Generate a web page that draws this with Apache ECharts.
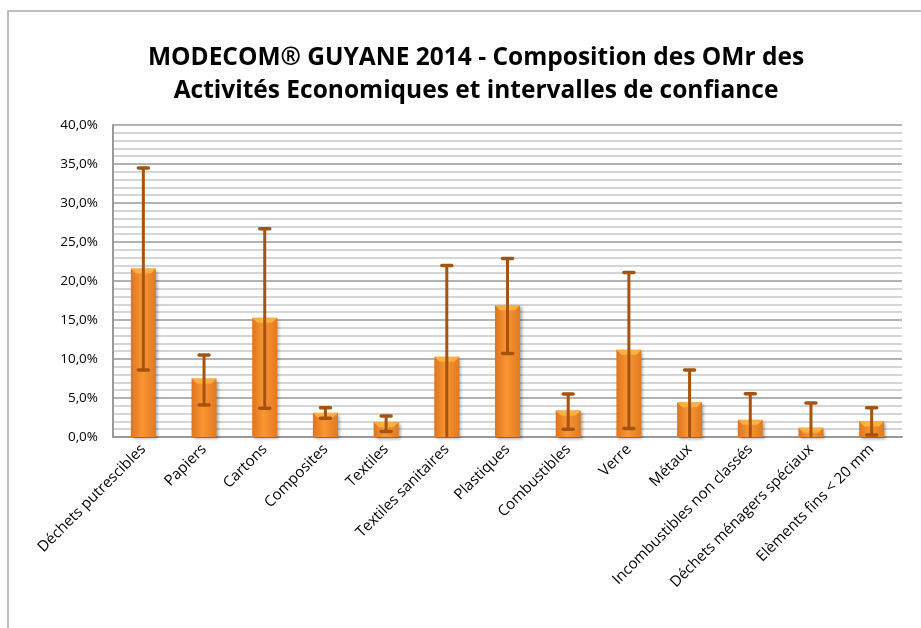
<!DOCTYPE html>
<html>
<head>
<meta charset="utf-8">
<script src="https://cdn.jsdelivr.net/npm/echarts@6/dist/echarts.min.js"></script>
<style>
html, body { margin: 0; padding: 0; background: #fff; }
#chartContainer { width: 921px; height: 628px; }
</style>
</head>
<body>
<div id="chartContainer"></div>
<script>
var categories = ['Déchets putrescibles', 'Papiers', 'Cartons', 'Composites', 'Textiles',
	'Textiles sanitaires', 'Plastiques', 'Combustibles', 'Verre', 'Métaux',
	'Incombustibles non classés', 'Déchets ménagers spéciaux', 'Elèments fins < 20 mm'];
var values = [21.6, 7.5, 15.3, 3.1, 1.9, 10.3, 16.9, 3.4, 11.2, 4.45, 2.2, 1.2, 2.0];
var lowBounds = [8.6, 4.1, 3.7, 2.4, 0.7, 0.0, 10.7, 1.0, 1.1, 0.0, 0.0, 0.0, 0.25];
var highBounds = [34.5, 10.5, 26.7, 3.75, 2.7, 22.0, 22.9, 5.5, 21.1, 8.6, 5.55, 4.35, 3.75];

var option = null;

function initOption() {
	var errData = [];
	for (var i = 0; i < categories.length; i++) {
		errData.push([i, lowBounds[i], highBounds[i]]);
	}

	option = {
		animation: false,
		title: {
			text: 'MODECOM® GUYANE 2014 - Composition des OMr des\nActivités Economiques et intervalles de confiance',
			left: 471,
			textAlign: 'center',
			top: 37,
			textStyle: {
				fontFamily: 'Open Sans',
				fontWeight: 'bold',
				fontSize: 24.5,
				lineHeight: 33,
				color: '#000'
			}
		},
		graphic: [{
			type: 'rect',
			shape: { x: 8, y: 11, width: 1000, height: 1000 },
			style: { fill: 'none', stroke: '#bdbdbd', lineWidth: 2 },
			silent: true
		}],
		grid: {
			left: 113,
			right: 19,
			top: 125,
			bottom: 191
		},
		xAxis: {
			type: 'category',
			data: categories,
			axisLine: { show: true, lineStyle: { color: '#999', width: 2 } },
			axisTick: { show: false },
			axisLabel: {
				rotate: 45,
				interval: 0,
				margin: 10,
				fontFamily: 'Open Sans',
				fontSize: 15,
				color: '#000'
			}
		},
		yAxis: {
			type: 'value',
			min: 0,
			max: 40,
			interval: 5,
			axisLine: { show: true, lineStyle: { color: '#999', width: 2 } },
			axisTick: { show: false },
			minorTick: { show: false, splitNumber: 5 },
			splitLine: { lineStyle: { color: '#999', width: 1.5 } },
			minorSplitLine: { show: true, lineStyle: { color: '#c8c8c8', width: 1.5 } },
			axisLabel: {
				margin: 15,
				fontFamily: 'Open Sans',
				fontSize: 13.5,
				color: '#000',
				formatter: function(v) {
					return v.toFixed(1).replace('.', ',') + '%';
				}
			}
		},
		series: [{
			type: 'bar',
			data: values,
			barWidth: 25,
			itemStyle: {
				color: new echarts.graphic.LinearGradient(0, 0, 1, 0, [
					{ offset: 0, color: '#DE7420' },
					{ offset: 0.45, color: '#F99632' },
					{ offset: 1, color: '#E07A22' }
				]),
				shadowColor: 'rgba(0,0,0,0.35)',
				shadowBlur: 3,
				shadowOffsetX: 2,
				shadowOffsetY: 2
			}
		}, {
			type: 'custom',
			data: values.map(function(v, i) { return [i, v]; }),
			renderItem: function(params, api) {
				var top = api.coord([api.value(0), api.value(1)]);
				var w = 25;
				var h = Math.min(5, api.size([0, api.value(1)])[1]);
				return {
					type: 'polygon',
					shape: {
						points: [
							[top[0] - w / 2, top[1]],
							[top[0] + w / 2, top[1]],
							[top[0] + w / 2 - 5, top[1] + h],
							[top[0] - w / 2 + 5, top[1] + h]
						]
					},
					style: { fill: '#FFBE48', opacity: 0.75 }
				};
			},
			z: 3
		}, {
			type: 'custom',
			data: errData,
			renderItem: function(params, api) {
				var lo = api.coord([api.value(0), api.value(1)]);
				var hi = api.coord([api.value(0), api.value(2)]);
				var cap = 5;
				var col = '#A5530F';
				var children = [{
					type: 'line',
					shape: { x1: hi[0], y1: hi[1], x2: lo[0], y2: lo[1] },
					style: { stroke: col, lineWidth: 3 }
				}, {
					type: 'line',
					shape: { x1: hi[0] - cap, y1: hi[1], x2: hi[0] + cap, y2: hi[1] },
					style: { stroke: col, lineWidth: 3.5, lineCap: 'round' }
				}];
				// lower cap hidden when the interval is clipped at 0
				if (api.value(1) > 0) {
					children.push({
						type: 'line',
						shape: { x1: lo[0] - cap, y1: lo[1], x2: lo[0] + cap, y2: lo[1] },
						style: { stroke: col, lineWidth: 3.5, lineCap: 'round' }
					});
				}
				return { type: 'group', children: children };
			},
			z: 4
		}]
	};
}

initOption();
var chartContainer = echarts.init(document.getElementById('chartContainer'));
chartContainer.setOption(option);
</script>
</body>
</html>
